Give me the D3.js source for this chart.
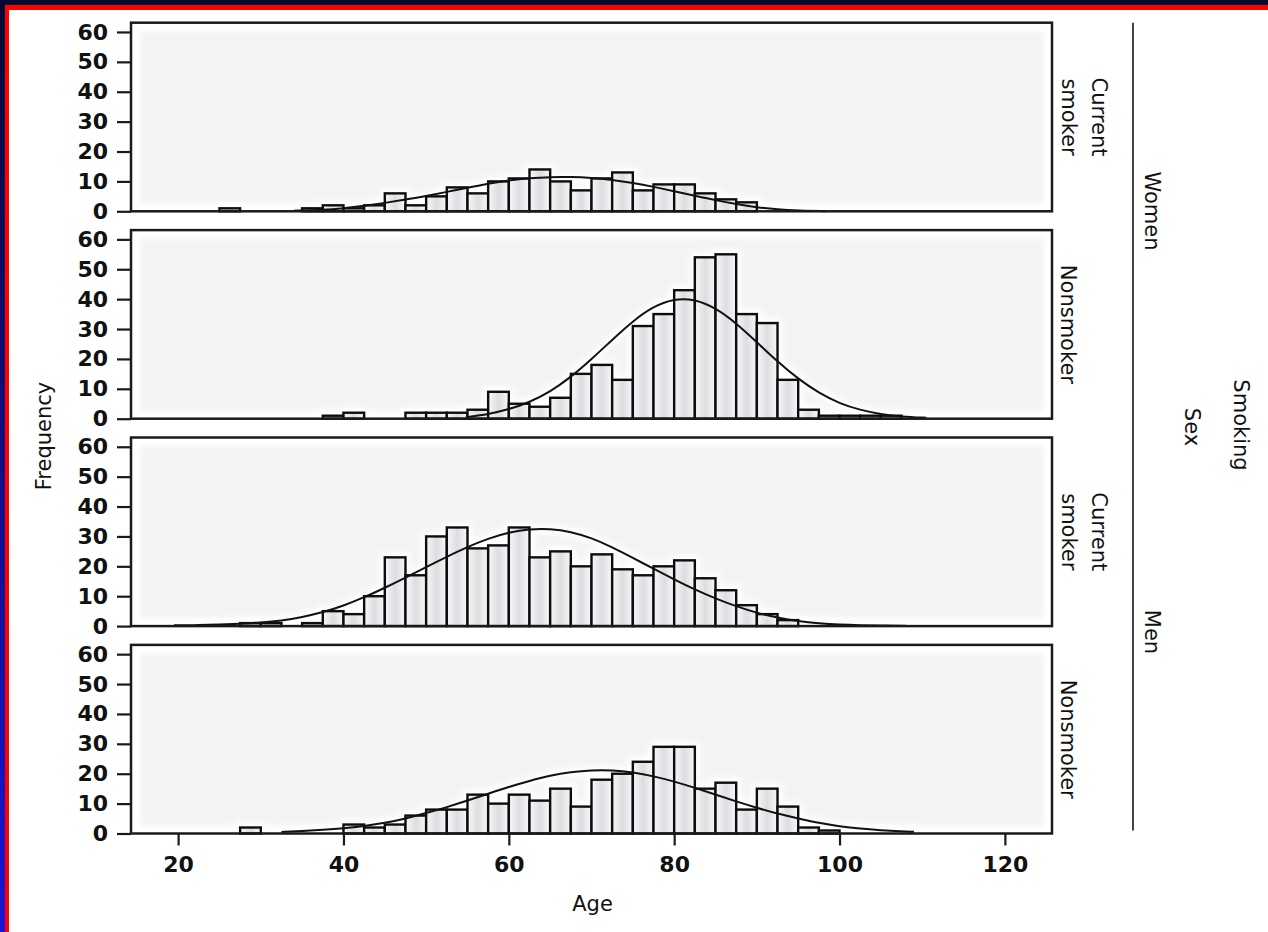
<!DOCTYPE html>
<html>
<head>
<meta charset="utf-8">
<script src="https://cdn.jsdelivr.net/npm/d3@7"></script>
<style>
  body { margin: 0; background: #ffffff; }
  svg { display: block; font-family: 'DejaVu Sans', sans-serif; }
</style>
</head>
<body>
<div id="chart"></div>
<script>
// Age histograms (frequency) by sex and smoking status, 2.5 year bins from age 25
const binStart = 25;
const binWidth = 2.5;

const womenSmokerCounts    = [1,0,0,0,1,2,1,2,6,2,5,8,6,10,11,14,10,7,11,13,7,9,9,6,4,3];
const womenNonsmokerCounts = [0,0,0,0,0,1,2,0,0,2,2,2,3,9,5,4,7,15,18,13,31,35,43,54,55,35,32,13,3,1,1,1,1];
const menSmokerCounts      = [0,1,1,0,1,5,4,10,23,17,30,33,26,27,33,23,25,20,24,19,17,20,22,16,12,7,4,2];
const menNonsmokerCounts   = [0,2,0,0,0,0,3,2,3,6,8,8,13,10,13,11,15,9,18,20,24,29,29,15,17,8,15,9,2,1];

// normal curves: [age, frequency]
const womenSmokerCurve = [[34,0.2],[37.5,0.5],[40,1.0],[42.5,1.8],[45,2.8],[47.5,3.9],[50,5.1],[52.5,6.5],
  [55,7.9],[57.5,9.3],[60,10.4],[62.5,11.1],[65,11.5],[67.5,11.5],[70,11.2],[72.5,10.5],[75,9.5],[77.5,8.2],
  [80,6.7],[82.5,5.2],[85,3.7],[87.5,2.4],[90,1.3],[92.5,0.6],[95,0.25],[98.3,0.05]];
const womenNonsmokerCurve = [[54.8,0.5],[57.5,1.5],[60,3.1],[62.5,5.5],[65,9.0],[67.5,13.9],[70,19.9],[72.5,26.4],
  [75,32.7],[77.5,37.6],[80,40.2],[82.5,40.0],[85,37.1],[87.5,32.0],[90,25.6],[92.5,19.1],[95,13.3],[97.5,8.6],
  [100,5.1],[102.5,2.9],[105,1.5],[107.5,0.7],[110.5,0.3]];
const menSmokerCurve = [[19.5,0.3],[22.5,0.3],[25,0.5],[27.5,0.8],[30,1.2],[32.5,1.8],[35,3.0],[37.5,4.6],[40,6.8],
  [42.5,9.6],[45,12.8],[47.5,16.2],[50,19.8],[52.5,23.2],[55,26.5],[57.5,29.3],[60,31.4],[62.5,32.5],[65,32.6],
  [67.5,31.6],[70,29.5],[72.5,26.4],[75,22.8],[77.5,19.2],[80,15.6],[82.5,12.2],[85,9.2],[87.5,6.6],[90,4.4],
  [92.5,2.8],[95,1.6],[97.5,0.9],[100,0.5],[102.5,0.3],[105,0.2],[108,0.15]];
const menNonsmokerCurve = [[32.5,0.5],[35,0.8],[37.5,1.2],[40,1.7],[42.5,2.5],[45,3.5],[47.5,5.0],[50,6.8],[52.5,8.8],
  [55,11.0],[57.5,13.3],[60,15.6],[62.5,17.6],[65,19.4],[67.5,20.6],[70,21.2],[72.5,21.2],[75,20.5],[77.5,19.2],
  [80,17.4],[82.5,15.3],[85,13.0],[87.5,10.7],[90,8.6],[92.5,6.6],[95,5.0],[97.5,3.5],[100,2.4],[102.5,1.6],
  [105,1.1],[107.5,0.7],[109,0.55]];

const smokingLabels = [['Current', 'smoker'], ['Nonsmoker'], ['Current', 'smoker'], ['Nonsmoker']];
const sexLabels     = ['Women', 'Men'];
const yTicks        = [0, 10, 20, 30, 40, 50, 60];
const xTicks        = [20, 40, 60, 80, 100, 120];

const panelCounts = [womenSmokerCounts, womenNonsmokerCounts, menSmokerCounts, menNonsmokerCounts];
const panelCurves = [womenSmokerCurve, womenNonsmokerCurve, menSmokerCurve, menNonsmokerCurve];

const width  = 1268;
const height = 932;
const plot   = {left: 131, right: 1052, top: 22.7, panelHeight: 188.6, step: 207.4};

let svg = d3.select('#chart')
  .append('svg')
  .attr('width', width)
  .attr('height', height);

let defs = svg.append('defs');

let barGrad = defs.append('linearGradient')
  .attr('id', 'barFill')
  .attr('x1', 0).attr('x2', 1).attr('y1', 0).attr('y2', 0);
barGrad.append('stop').attr('offset', '0%').attr('stop-color', '#f8f8f9');
barGrad.append('stop').attr('offset', '50%').attr('stop-color', '#dcdde1');
barGrad.append('stop').attr('offset', '100%').attr('stop-color', '#f8f8f9');

defs.append('filter').attr('id', 'soft')
  .attr('x', '-10%').attr('y', '-10%').attr('width', '120%').attr('height', '120%')
  .append('feGaussianBlur').attr('stdDeviation', 2.5);

defs.append('filter').attr('id', 'halo')
  .attr('x', '-20%').attr('y', '-20%').attr('width', '140%').attr('height', '140%')
  .append('feGaussianBlur').attr('stdDeviation', 3);

let edgeGrad = defs.append('linearGradient')
  .attr('id', 'edgeFill')
  .attr('x1', 0).attr('x2', 0).attr('y1', 0).attr('y2', 1);
edgeGrad.append('stop').attr('offset', '0%').attr('stop-color', '#050835');
edgeGrad.append('stop').attr('offset', '100%').attr('stop-color', '#1a14d8');

// picture frame
svg.append('rect').attr('x', 0).attr('y', 0).attr('width', width).attr('height', 5).attr('fill', '#050835');
svg.append('rect').attr('x', 0).attr('y', 0).attr('width', 5).attr('height', height).attr('fill', 'url(#edgeFill)');
svg.append('rect').attr('x', 5).attr('y', 5).attr('width', width - 5).attr('height', 5).attr('fill', '#ff0000');
svg.append('rect').attr('x', 5).attr('y', 5).attr('width', 4).attr('height', height - 5).attr('fill', '#ff0000');

let x = d3.scaleLinear()
  .domain([14.3, 125.7])
  .range([plot.left, plot.right]);

let line = d3.line()
  .curve(d3.curveBasis);

panelCounts.forEach((counts, k) => {
  const top    = plot.top + k * plot.step;
  const bottom = top + plot.panelHeight;

  let y = d3.scaleLinear()
    .domain([0, 63.1])
    .range([bottom, top]);

  let panel = svg.append('g').attr('class', 'panel');

  panel.append('rect')
    .attr('x', plot.left).attr('y', top)
    .attr('width', plot.right - plot.left).attr('height', plot.panelHeight)
    .attr('fill', '#ffffff');

  panel.append('rect')
    .attr('x', plot.left + 9).attr('y', top + 9)
    .attr('width', plot.right - plot.left - 18).attr('height', plot.panelHeight - 17)
    .attr('fill', '#f3f3f3')
    .attr('filter', 'url(#soft)');

  let bins = counts
    .map((v, i) => ({x0: binStart + i * binWidth, x1: binStart + (i + 1) * binWidth, value: v}))
    .filter(d => d.value > 0);

  const pts = panelCurves[k].map(d => [x(d[0]), y(d[1])]);

  // white glow around the marks
  let halo = panel.append('g').attr('filter', 'url(#halo)');
  halo.selectAll('rect')
    .data(bins)
    .enter()
    .append('rect')
    .attr('x', d => x(d.x0))
    .attr('y', d => y(d.value))
    .attr('width', d => x(d.x1) - x(d.x0))
    .attr('height', d => bottom - y(d.value))
    .attr('fill', '#ffffff')
    .attr('stroke', '#ffffff')
    .attr('stroke-width', 10);
  halo.append('path')
    .attr('d', line(pts))
    .attr('fill', 'none')
    .attr('stroke', '#ffffff')
    .attr('stroke-width', 9);

  panel.selectAll('.bar')
    .data(bins)
    .enter()
    .append('rect')
    .attr('class', 'bar')
    .attr('x', d => x(d.x0))
    .attr('y', d => y(d.value))
    .attr('width', d => x(d.x1) - x(d.x0))
    .attr('height', d => bottom - y(d.value))
    .attr('fill', 'url(#barFill)')
    .attr('stroke', '#0d0d0d')
    .attr('stroke-width', 2.4);

  panel.append('path')
    .attr('d', line(pts))
    .attr('fill', 'none')
    .attr('stroke', '#111111')
    .attr('stroke-width', 2);

  panel.append('rect')
    .attr('x', plot.left).attr('y', top)
    .attr('width', plot.right - plot.left).attr('height', plot.panelHeight)
    .attr('fill', 'none')
    .attr('stroke', '#1a1a1a')
    .attr('stroke-width', 2.5);

  // y-axis
  let yAxis = svg.append('g')
    .attr('class', 'y-axis')
    .attr('transform', `translate(${plot.left}, 0)`)
    .call(d3.axisLeft(y).tickValues(yTicks).tickSize(14).tickPadding(9).tickFormat(d3.format('d')));
  yAxis.select('.domain').remove();
  yAxis.selectAll('line').attr('stroke', '#1a1a1a').attr('stroke-width', 2.2);
  yAxis.selectAll('text')
    .style('font-family', 'DejaVu Sans')
    .style('font-size', '22px')
    .style('font-weight', 'bold')
    .attr('fill', '#111111');

  // strip label for smoking status
  const lines = smokingLabels[k];
  const cy = (top + bottom) / 2;
  lines.forEach((t, j) => {
    const bx = lines.length === 2 ? (j === 0 ? 1092 : 1062) : 1061;
    svg.append('text')
      .attr('transform', `translate(${bx}, ${cy}) rotate(90)`)
      .attr('text-anchor', 'middle')
      .style('font-size', '21px')
      .attr('fill', '#111111')
      .text(t);
  });

  // x-axis below the last panel
  if (k === panelCounts.length - 1) {
    let xAxis = svg.append('g')
      .attr('class', 'x-axis')
      .attr('transform', `translate(0, ${bottom})`)
      .call(d3.axisBottom(x).tickValues(xTicks).tickSize(12).tickPadding(11).tickFormat(d3.format('d')));
    xAxis.select('.domain').remove();
    xAxis.selectAll('line').attr('stroke', '#1a1a1a').attr('stroke-width', 2.2);
    xAxis.selectAll('text')
      .style('font-family', 'DejaVu Sans')
      .style('font-size', '22px')
      .style('font-weight', 'bold')
      .attr('fill', '#111111');
  }
});

// sex strip
const firstTop  = plot.top;
const lastBot   = plot.top + 3 * plot.step + plot.panelHeight;
svg.append('line')
  .attr('x1', 1133).attr('x2', 1133)
  .attr('y1', firstTop).attr('y2', lastBot - 3)
  .attr('stroke', '#444444')
  .attr('stroke-width', 2);

const sexCenters = [211, 632];
sexLabels.forEach((t, j) => {
  svg.append('text')
    .attr('transform', `translate(1145, ${sexCenters[j]}) rotate(90)`)
    .attr('text-anchor', 'middle')
    .style('font-size', '21px')
    .attr('fill', '#111111')
    .text(t);
});

svg.append('text')
  .attr('transform', 'translate(1234, 425) rotate(90)')
  .attr('text-anchor', 'middle')
  .style('font-size', '21px')
  .attr('fill', '#111111')
  .text('Smoking');

svg.append('text')
  .attr('transform', 'translate(1185, 427) rotate(90)')
  .attr('text-anchor', 'middle')
  .style('font-size', '21px')
  .attr('fill', '#111111')
  .text('Sex');

// axis titles
svg.append('text')
  .attr('transform', 'translate(51, 436) rotate(-90)')
  .attr('text-anchor', 'middle')
  .style('font-size', '21px')
  .attr('fill', '#111111')
  .text('Frequency');

svg.append('text')
  .attr('x', (x(20) + x(120)) / 2 + 1)
  .attr('y', 911)
  .attr('text-anchor', 'middle')
  .style('font-size', '21px')
  .attr('fill', '#111111')
  .text('Age');
</script>
</body>
</html>
